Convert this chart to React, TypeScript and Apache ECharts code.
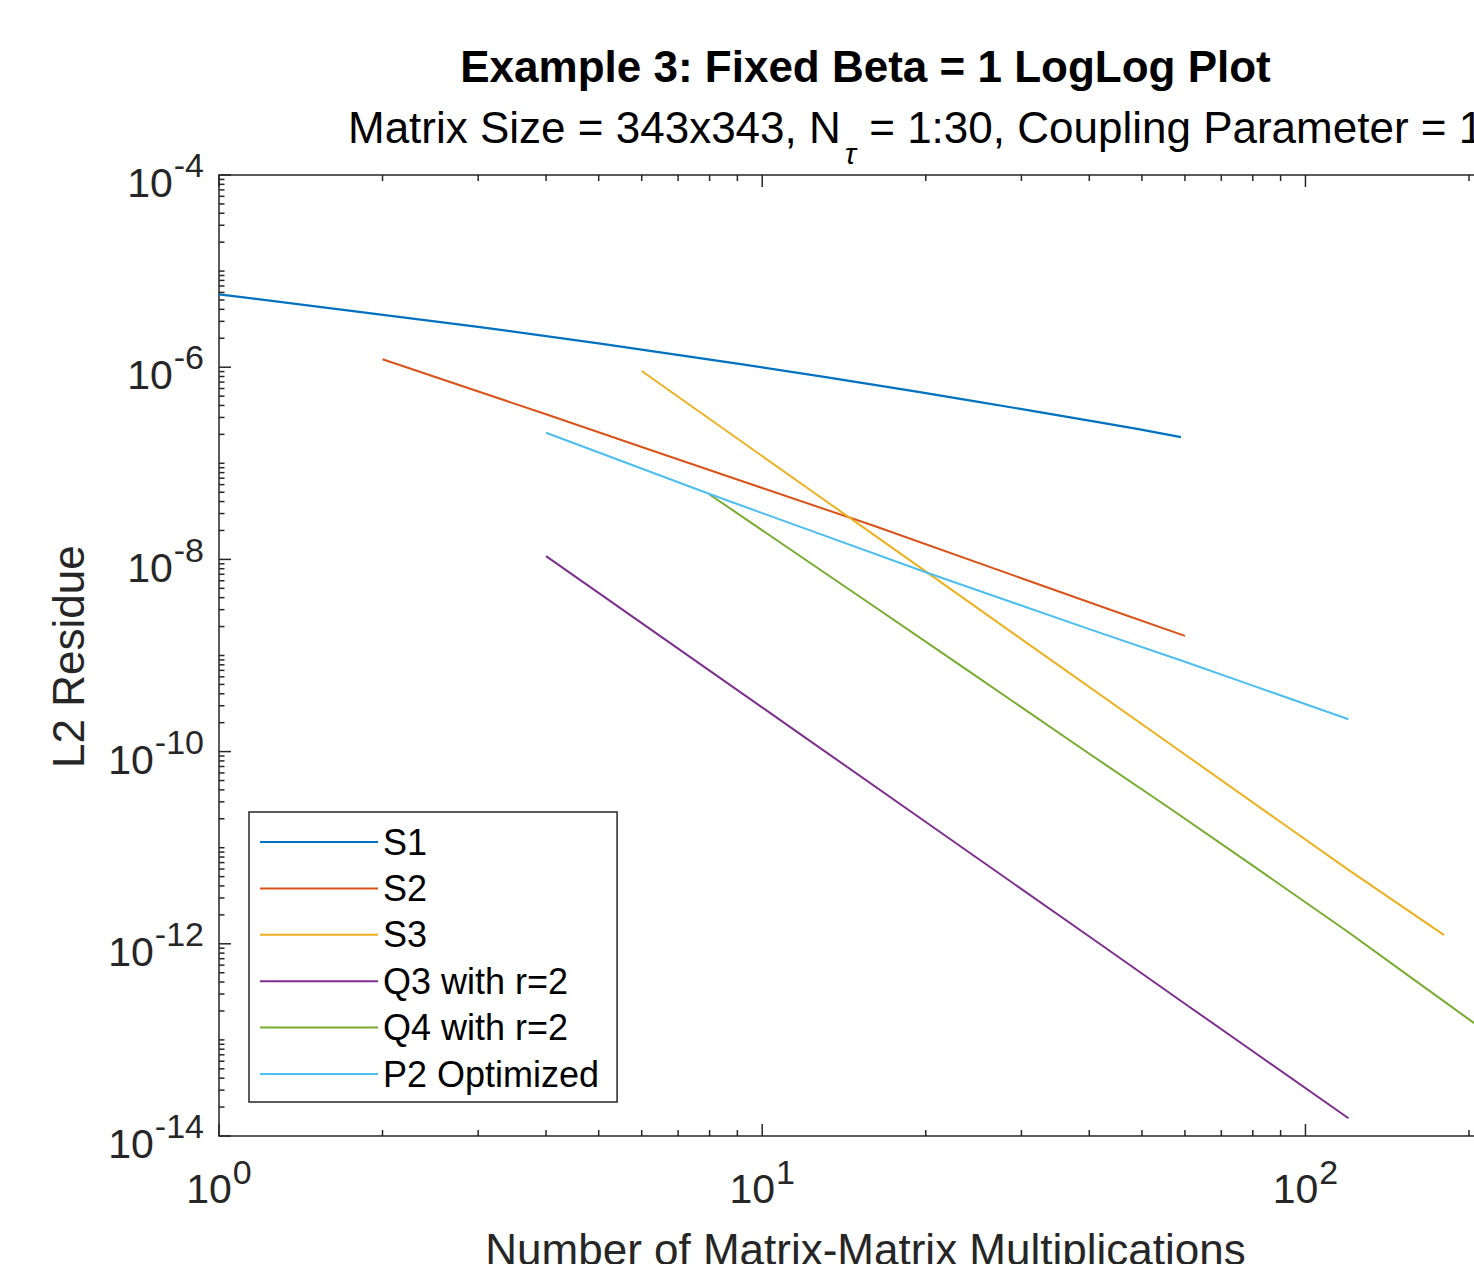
import React, { useEffect, useRef } from "react";
import * as echarts from "echarts";

// ---------- data ----------
const seriesNames = ["S1", "S2", "S3", "Q3 with r=2", "Q4 with r=2", "P2 Optimized"];
const seriesColors = ["#0072BD", "#D95319", "#EDB120", "#7E2F8E", "#77AC30", "#4DBEEE"];

const s1X = [1, 3, 5, 9, 13, 19, 25, 33, 41, 49, 59];
const s1Y = [5.73e-6, 2.63e-6, 1.77e-6, 1.09e-6, 7.92e-7, 5.63e-7, 4.36e-7, 3.35e-7, 2.71e-7, 2.28e-7, 1.87e-7];

const s2X = [2, 4, 6, 10, 16, 30, 44, 60];
const s2Y = [1.21e-6, 3.24e-7, 1.48e-7, 5.53e-8, 2.25e-8, 6.37e-9, 2.96e-9, 1.6e-9];

const s3X = [6, 12, 18, 30, 60, 90, 120, 180];
const s3Y = [9.12e-7, 5.74e-8, 1.14e-8, 1.48e-9, 9.33e-11, 1.85e-11, 5.87e-12, 1.23e-12];

const q3X = [4, 8, 12, 20, 40, 60, 80, 120];
const q3Y = [1.08e-8, 6.95e-10, 1.4e-10, 1.85e-11, 1.19e-12, 2.38e-13, 7.62e-14, 1.53e-14];

const q4X = [8, 16, 24, 40, 56, 80, 120, 160, 240];
const q4Y = [4.74e-8, 3.29e-9, 6.87e-10, 9.5e-11, 2.62e-11, 6.5e-12, 1.32e-12, 4.07e-13, 7.76e-14];

const p2X = [4, 8, 12, 20, 40, 60, 80, 120];
const p2Y = [2.08e-7, 4.79e-8, 2.09e-8, 7.36e-9, 1.88e-9, 8.6e-10, 4.86e-10, 2.17e-10];

const seriesX = [s1X, s2X, s3X, q3X, q4X, p2X];
const seriesY = [s1Y, s2Y, s3Y, q3Y, q4Y, p2Y];

// axis ranges and ticks
const X_MIN = 1;
const X_MAX = 240;
const Y_MIN = 1e-14;
const Y_MAX = 1e-4;
const xLabelExps = [0, 1, 2];
const xMinorTicks = [2, 3, 4, 5, 6, 7, 8, 9, 20, 30, 40, 50, 60, 70, 80, 90, 200];
const yLabelExps = [-14, -12, -10, -8, -6, -4];
const yDecadeExps = [-14, -13, -12, -11, -10, -9, -8, -7, -6, -5];
const yMinorMantissas = [2, 3, 4, 5, 6, 7, 8, 9];

const titleText = "Example 3: Fixed Beta = 1 LogLog Plot";
const subtitleA = "Matrix Size = 343x343, N";
const subtitleSub = "τ";
const subtitleB = " = 1:30, Coupling Parameter = 1";
const xName = "Number of Matrix-Matrix Multiplications";
const yName = "L2 Residue";

const FONT = '"Liberation Sans", Arial, Helvetica, sans-serif';
const AXIS_COLOR = "#262626";

function measure(text: string, size: number, weight = "normal", style = "normal") {
  const c = document.createElement("canvas").getContext("2d") as CanvasRenderingContext2D;
  c.font = `${style} ${weight} ${size}px ${FONT}`;
  return c.measureText(text).width;
}

export default function App() {
  const ref = useRef<HTMLDivElement>(null);

  useEffect(() => {
    if (!ref.current) return;
    const chart = echarts.init(ref.current, null, { renderer: "svg" });

    const series = seriesNames.map((name, i) => ({
      type: "line",
      name,
      data: seriesX[i].map((x, j) => [x, seriesY[i][j]]),
      symbol: "none",
      showSymbol: false,
      silent: true,
      lineStyle: { color: seriesColors[i], width: i === 0 ? 2.2 : 2 },
      itemStyle: { color: seriesColors[i] },
      z: 2,
    }));

    const hiddenAxis = {
      axisLine: { show: false },
      axisTick: { show: false },
      axisLabel: { show: false },
      splitLine: { show: false },
      minorTick: { show: false },
      minorSplitLine: { show: false },
    };

    chart.setOption({
      animation: false,
      backgroundColor: "#ffffff",
      grid: {
        left: 219,
        top: 175,
        width: 1293,
        height: 961,
        show: true,
        borderColor: AXIS_COLOR,
        borderWidth: 1.5,
        backgroundColor: "transparent",
        containLabel: false,
      },
      xAxis: { type: "log", logBase: 10, min: X_MIN, max: X_MAX, ...hiddenAxis },
      yAxis: { type: "log", logBase: 10, min: Y_MIN, max: Y_MAX, ...hiddenAxis },
      legend: {
        orient: "vertical",
        left: 249,
        top: 812,
        icon: "rect",
        itemWidth: 118,
        itemHeight: 2,
        itemGap: 10.4,
        padding: [12, 18, 10, 11],
        borderColor: AXIS_COLOR,
        borderWidth: 1.5,
        borderRadius: 0,
        backgroundColor: "#ffffff",
        selectedMode: false,
        textStyle: { fontSize: 36, fontFamily: FONT, color: "#000000", lineHeight: 36 },
        data: seriesNames,
      },
      series,
    });

    const toPx = (x: number, y: number) =>
      chart.convertToPixel({ gridIndex: 0 }, [x, y]) as number[];

    const [gx0, gy0] = toPx(X_MIN, Y_MAX);
    const [gx1, gy1] = toPx(X_MAX, Y_MIN);
    const g: any[] = [];

    const tick = (x1: number, y1: number, x2: number, y2: number) =>
      g.push({
        type: "line",
        silent: true,
        z: 20,
        shape: { x1, y1, x2, y2 },
        style: { stroke: AXIS_COLOR, lineWidth: 1.5 },
      });

    const text = (
      t: string,
      x: number,
      y: number,
      size: number,
      align: string,
      extra: any = {}
    ) =>
      g.push({
        type: "text",
        silent: true,
        z: 30,
        x,
        y,
        rotation: extra.rotation || 0,
        style: {
          text: t,
          fontSize: size,
          fontFamily: FONT,
          fontWeight: extra.weight || "normal",
          fontStyle: extra.style || "normal",
          fill: extra.color || AXIS_COLOR,
          align,
          verticalAlign: "middle",
        },
      });

    // x ticks
    xLabelExps.forEach((e) => {
      const px = toPx(Math.pow(10, e), Y_MIN)[0];
      tick(px, gy1, px, gy1 - 12);
      tick(px, gy0, px, gy0 + 12);
    });
    xMinorTicks.forEach((v) => {
      const px = toPx(v, Y_MIN)[0];
      tick(px, gy1, px, gy1 - 6);
      tick(px, gy0, px, gy0 + 6);
    });
    // y ticks
    yLabelExps.forEach((e) => {
      const py = toPx(X_MIN, Math.pow(10, e))[1];
      tick(gx0, py, gx0 + 12, py);
      tick(gx1, py, gx1 - 12, py);
    });
    yDecadeExps.forEach((e) => {
      const vals = yLabelExps.includes(e) ? yMinorMantissas : [1, ...yMinorMantissas];
      vals.forEach((m) => {
        const py = toPx(X_MIN, m * Math.pow(10, e))[1];
        tick(gx0, py, gx0 + 5.5, py);
        tick(gx1, py, gx1 - 5.5, py);
      });
    });

    // y tick labels
    yLabelExps.forEach((e) => {
      const py = toPx(X_MIN, Math.pow(10, e))[1];
      const expT = String(e);
      const wExp = measure(expT, 34);
      const right = gx0 - 15;
      text(expT, right, py - 9.8, 34, "right");
      text("10", right - wExp - 1, py + 8.2, 41, "right");
    });

    // x tick labels
    xLabelExps.forEach((e) => {
      const px = toPx(Math.pow(10, e), Y_MIN)[0];
      const expT = String(e);
      const w10 = measure("10", 41);
      const wE = measure(expT, 34);
      const start = px - (w10 + wE + 1) / 2;
      text("10", start, gy1 + 53.1, 41, "left");
      text(expT, start + w10 + 1, gy1 + 35.5, 34, "left");
    });

    const cx = (gx0 + gx1) / 2;
    // title
    text(titleText, cx, 66.3, 44, "center", { weight: "bold", color: "#000000" });
    // subtitle
    const wA = measure(subtitleA, 44);
    const wSub = measure(subtitleSub, 30, "normal", "italic");
    text(subtitleA, 348, 127.1, 44, "left", { color: "#000000" });
    text(subtitleSub, 348 + wA + 4, 153, 30, "left", { style: "italic", color: "#000000" });
    text(subtitleB, 348 + wA + 4 + wSub + 1, 127.1, 44, "left", { color: "#000000" });

    // axis names
    text(xName, cx, 1249.5, 44, "center");
    text(yName, 68, 656.7, 44, "center", { rotation: Math.PI / 2 });

    chart.setOption({ graphic: g });

    return () => chart.dispose();
  }, []);

  return (
    <div
      style={{
        position: "fixed",
        left: 0,
        top: 0,
        width: 1474,
        height: 1264,
        overflow: "hidden",
        background: "#ffffff",
      }}
    >
      <div ref={ref} style={{ width: 1560, height: 1300 }} />
    </div>
  );
}
